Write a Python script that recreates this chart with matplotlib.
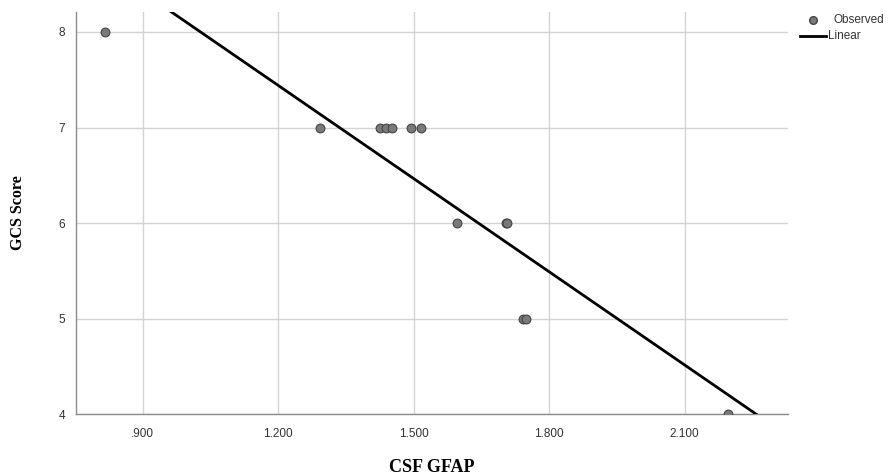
import numpy as np
import matplotlib
matplotlib.use("Agg")
import matplotlib.pyplot as plt
from matplotlib.ticker import FuncFormatter, FixedLocator
from matplotlib.lines import Line2D

# Data
csf_gfap = [0.816, 1.292, 1.425, 1.438, 1.452, 1.495, 1.515, 1.595, 1.704, 1.707, 1.743, 1.748, 2.195]
gcs_score = [8, 7, 7, 7, 7, 7, 7, 6, 6, 6, 5, 5, 4]
fit_intercept = 11.34
fit_slope = -3.25
x_ticks = [0.9, 1.2, 1.5, 1.8, 2.1]
y_ticks = [4, 5, 6, 7, 8]
legend_labels = ["Observed", "Linear"]

W, H = 894, 475
fig = plt.figure(figsize=(W / 100, H / 100), dpi=100)
ax = fig.add_axes([0.085, 0.128, 0.796, 0.847])

xlim = (0.752, 2.328)
ylim = (4.0, 8.21)
ax.set_xlim(*xlim)
ax.set_ylim(*ylim)

tick_font = ["Liberation Sans Narrow", "Liberation Sans", "DejaVu Sans"]
ax.xaxis.set_major_locator(FixedLocator(x_ticks))
ax.yaxis.set_major_locator(FixedLocator(y_ticks))
ax.xaxis.set_major_formatter(FuncFormatter(lambda v, p: f"{v:.3f}".lstrip("0")))
ax.yaxis.set_major_formatter(FuncFormatter(lambda v, p: f"{int(v)}"))

ax.grid(True, color="#d4d4d4", linewidth=1.0)
ax.set_axisbelow(True)
for s in ["top", "right"]:
    ax.spines[s].set_visible(False)
for s in ["left", "bottom"]:
    ax.spines[s].set_color("#8c8c8c")
    ax.spines[s].set_linewidth(1.0)
ax.tick_params(length=0, labelsize=8.5, colors="#333333", pad=8)
ax.tick_params(axis="x", pad=10)
for lab in ax.get_xticklabels() + ax.get_yticklabels():
    lab.set_family(tick_font)

xs = np.array(xlim)
ax.plot(xs, fit_intercept + fit_slope * xs, color="black", linewidth=2.0, zorder=3)
ax.scatter(csf_gfap, gcs_score, s=40, facecolor="#7a7a7a", edgecolor="#444444",
           linewidth=0.8, zorder=4, clip_on=True)

ax.set_xlabel("CSF GFAP", family="Liberation Serif", fontweight="bold", fontsize=13, labelpad=13.5)
ax.set_ylabel("GCS Score", family="Liberation Serif", fontweight="bold", fontsize=11.5, labelpad=23)

# Legend drawn manually outside the plot area (pixel positions converted to figure fraction)
def fx(px):
    return px / W

def fy(py):
    return 1 - py / H

fig.add_artist(Line2D([fx(813)], [fy(20)], marker="o", linestyle="none",
                      markerfacecolor="#7a7a7a", markeredgecolor="#444444", markersize=5.5))
fig.text(fx(833), fy(20), legend_labels[0], fontsize=8.5, color="#333333",
         family=["Liberation Sans", "DejaVu Sans"], va="center", ha="left")
fig.add_artist(Line2D([fx(800), fx(826)], [fy(36), fy(36)], color="black", linewidth=2.0))
fig.text(fx(828), fy(36), legend_labels[1], fontsize=8.5, color="#333333",
         family=["Liberation Sans", "DejaVu Sans"], va="center", ha="left")

fig.savefig("out.png", dpi=100)
